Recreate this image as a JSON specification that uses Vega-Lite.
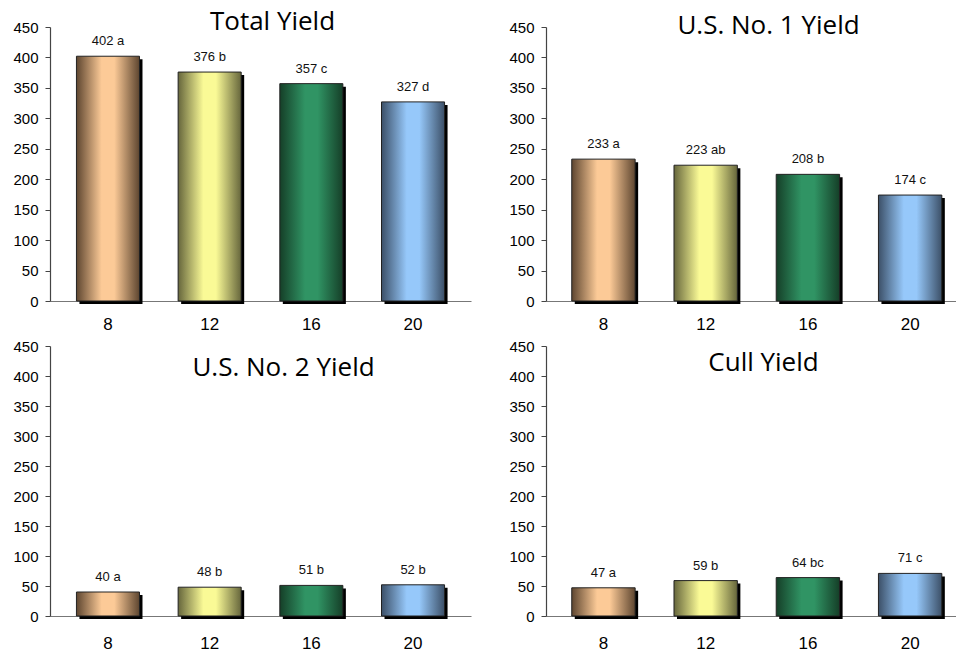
{
  "$schema": "https://vega.github.io/schema/vega-lite/v6.json",
  "padding": {"left": 12, "top": 9, "right": 0, "bottom": 0},
  "background": "white",
  "datasets": {
    "yield": [
      {"panel": "Total Yield", "spacing": 8, "value": 402, "label": "402 a"},
      {"panel": "Total Yield", "spacing": 12, "value": 376, "label": "376 b"},
      {"panel": "Total Yield", "spacing": 16, "value": 357, "label": "357 c"},
      {"panel": "Total Yield", "spacing": 20, "value": 327, "label": "327 d"},
      {"panel": "U.S. No. 1 Yield", "spacing": 8, "value": 233, "label": "233 a"},
      {"panel": "U.S. No. 1 Yield", "spacing": 12, "value": 223, "label": "223 ab"},
      {"panel": "U.S. No. 1 Yield", "spacing": 16, "value": 208, "label": "208 b"},
      {"panel": "U.S. No. 1 Yield", "spacing": 20, "value": 174, "label": "174 c"},
      {"panel": "U.S. No. 2 Yield", "spacing": 8, "value": 40, "label": "40 a"},
      {"panel": "U.S. No. 2 Yield", "spacing": 12, "value": 48, "label": "48 b"},
      {"panel": "U.S. No. 2 Yield", "spacing": 16, "value": 51, "label": "51 b"},
      {"panel": "U.S. No. 2 Yield", "spacing": 20, "value": 52, "label": "52 b"},
      {"panel": "Cull Yield", "spacing": 8, "value": 47, "label": "47 a"},
      {"panel": "Cull Yield", "spacing": 12, "value": 59, "label": "59 b"},
      {"panel": "Cull Yield", "spacing": 16, "value": 64, "label": "64 bc"},
      {"panel": "Cull Yield", "spacing": 20, "value": 71, "label": "71 c"}
    ]
  },
  "data": {"name": "yield"},
  "columns": 2,
  "spacing": {"row": 7, "column": 37},
  "concat": [
    {
      "width": 421, "height": 274,
      "title": {"text": "Total Yield", "frame": "group", "offset": -15, "dx": 12},
      "transform": [{"filter": "datum.panel === 'Total Yield'"}],
      "encoding": {
        "x": {"field": "spacing", "type": "ordinal", "scale": {"domain": [8, 12, 16, 20], "paddingInner": 0.38, "paddingOuter": 0.26}},
        "y": {"field": "value", "type": "quantitative", "scale": {"domain": [0, 450]}}
      },
      "layer": [
        {"mark": {"type": "bar", "color": "black", "xOffset": 3, "yOffset": 3}},
        {"transform": [{"filter": "datum.spacing === 8"}], "mark": {"type": "bar", "stroke": "#222", "strokeWidth": 1, "color": {"gradient": "linear", "x1": 0, "x2": 1, "y1": 0, "y2": 0, "stops": [{"offset": 0, "color": "#5e4630"}, {"offset": 0.4, "color": "#fcca97"}, {"offset": 0.6, "color": "#fcca97"}, {"offset": 1, "color": "#5e4630"}]}}},
        {"transform": [{"filter": "datum.spacing === 12"}], "mark": {"type": "bar", "stroke": "#222", "strokeWidth": 1, "color": {"gradient": "linear", "x1": 0, "x2": 1, "y1": 0, "y2": 0, "stops": [{"offset": 0, "color": "#66663c"}, {"offset": 0.4, "color": "#fafa96"}, {"offset": 0.6, "color": "#fafa96"}, {"offset": 1, "color": "#66663c"}]}}},
        {"transform": [{"filter": "datum.spacing === 16"}], "mark": {"type": "bar", "stroke": "#222", "strokeWidth": 1, "color": {"gradient": "linear", "x1": 0, "x2": 1, "y1": 0, "y2": 0, "stops": [{"offset": 0, "color": "#153f28"}, {"offset": 0.4, "color": "#309464"}, {"offset": 0.6, "color": "#309464"}, {"offset": 1, "color": "#153f28"}]}}},
        {"transform": [{"filter": "datum.spacing === 20"}], "mark": {"type": "bar", "stroke": "#222", "strokeWidth": 1, "color": {"gradient": "linear", "x1": 0, "x2": 1, "y1": 0, "y2": 0, "stops": [{"offset": 0, "color": "#3c5068"}, {"offset": 0.4, "color": "#96c8fa"}, {"offset": 0.6, "color": "#96c8fa"}, {"offset": 1, "color": "#3c5068"}]}}},
        {"mark": {"type": "text", "baseline": "alphabetic", "dy": -11, "fontSize": 13, "font": "Liberation Sans", "color": "#111"}, "encoding": {"text": {"field": "label"}}}
      ]
    },
    {
      "width": 413, "height": 274,
      "title": {"text": "U.S. No. 1 Yield", "frame": "group", "offset": -19, "dx": 16},
      "transform": [{"filter": "datum.panel === 'U.S. No. 1 Yield'"}],
      "encoding": {
        "x": {"field": "spacing", "type": "ordinal", "scale": {"domain": [8, 12, 16, 20], "paddingInner": 0.38, "paddingOuter": 0.21, "align": 0.6}},
        "y": {"field": "value", "type": "quantitative", "scale": {"domain": [0, 450]}}
      },
      "layer": [
        {"mark": {"type": "bar", "color": "black", "xOffset": 3, "yOffset": 3}},
        {"transform": [{"filter": "datum.spacing === 8"}], "mark": {"type": "bar", "stroke": "#222", "strokeWidth": 1, "color": {"gradient": "linear", "x1": 0, "x2": 1, "y1": 0, "y2": 0, "stops": [{"offset": 0, "color": "#5e4630"}, {"offset": 0.4, "color": "#fcca97"}, {"offset": 0.6, "color": "#fcca97"}, {"offset": 1, "color": "#5e4630"}]}}},
        {"transform": [{"filter": "datum.spacing === 12"}], "mark": {"type": "bar", "stroke": "#222", "strokeWidth": 1, "color": {"gradient": "linear", "x1": 0, "x2": 1, "y1": 0, "y2": 0, "stops": [{"offset": 0, "color": "#66663c"}, {"offset": 0.4, "color": "#fafa96"}, {"offset": 0.6, "color": "#fafa96"}, {"offset": 1, "color": "#66663c"}]}}},
        {"transform": [{"filter": "datum.spacing === 16"}], "mark": {"type": "bar", "stroke": "#222", "strokeWidth": 1, "color": {"gradient": "linear", "x1": 0, "x2": 1, "y1": 0, "y2": 0, "stops": [{"offset": 0, "color": "#153f28"}, {"offset": 0.4, "color": "#309464"}, {"offset": 0.6, "color": "#309464"}, {"offset": 1, "color": "#153f28"}]}}},
        {"transform": [{"filter": "datum.spacing === 20"}], "mark": {"type": "bar", "stroke": "#222", "strokeWidth": 1, "color": {"gradient": "linear", "x1": 0, "x2": 1, "y1": 0, "y2": 0, "stops": [{"offset": 0, "color": "#3c5068"}, {"offset": 0.4, "color": "#96c8fa"}, {"offset": 0.6, "color": "#96c8fa"}, {"offset": 1, "color": "#3c5068"}]}}},
        {"mark": {"type": "text", "baseline": "alphabetic", "dy": -11, "fontSize": 13, "font": "Liberation Sans", "color": "#111"}, "encoding": {"text": {"field": "label"}}}
      ]
    },
    {
      "width": 421, "height": 270,
      "title": {"text": "U.S. No. 2 Yield", "frame": "group", "offset": -42, "dx": 23},
      "transform": [{"filter": "datum.panel === 'U.S. No. 2 Yield'"}],
      "encoding": {
        "x": {"field": "spacing", "type": "ordinal", "scale": {"domain": [8, 12, 16, 20], "paddingInner": 0.38, "paddingOuter": 0.26}, "axis": {"labelPadding": 19}},
        "y": {"field": "value", "type": "quantitative", "scale": {"domain": [0, 450]}}
      },
      "layer": [
        {"mark": {"type": "bar", "color": "black", "xOffset": 3, "yOffset": 3}},
        {"transform": [{"filter": "datum.spacing === 8"}], "mark": {"type": "bar", "stroke": "#222", "strokeWidth": 1, "color": {"gradient": "linear", "x1": 0, "x2": 1, "y1": 0, "y2": 0, "stops": [{"offset": 0, "color": "#5e4630"}, {"offset": 0.4, "color": "#fcca97"}, {"offset": 0.6, "color": "#fcca97"}, {"offset": 1, "color": "#5e4630"}]}}},
        {"transform": [{"filter": "datum.spacing === 12"}], "mark": {"type": "bar", "stroke": "#222", "strokeWidth": 1, "color": {"gradient": "linear", "x1": 0, "x2": 1, "y1": 0, "y2": 0, "stops": [{"offset": 0, "color": "#66663c"}, {"offset": 0.4, "color": "#fafa96"}, {"offset": 0.6, "color": "#fafa96"}, {"offset": 1, "color": "#66663c"}]}}},
        {"transform": [{"filter": "datum.spacing === 16"}], "mark": {"type": "bar", "stroke": "#222", "strokeWidth": 1, "color": {"gradient": "linear", "x1": 0, "x2": 1, "y1": 0, "y2": 0, "stops": [{"offset": 0, "color": "#153f28"}, {"offset": 0.4, "color": "#309464"}, {"offset": 0.6, "color": "#309464"}, {"offset": 1, "color": "#153f28"}]}}},
        {"transform": [{"filter": "datum.spacing === 20"}], "mark": {"type": "bar", "stroke": "#222", "strokeWidth": 1, "color": {"gradient": "linear", "x1": 0, "x2": 1, "y1": 0, "y2": 0, "stops": [{"offset": 0, "color": "#3c5068"}, {"offset": 0.4, "color": "#96c8fa"}, {"offset": 0.6, "color": "#96c8fa"}, {"offset": 1, "color": "#3c5068"}]}}},
        {"mark": {"type": "text", "baseline": "alphabetic", "dy": -11, "fontSize": 13, "font": "Liberation Sans", "color": "#111"}, "encoding": {"text": {"field": "label"}}}
      ]
    },
    {
      "width": 413, "height": 270,
      "title": {"text": "Cull Yield", "frame": "group", "offset": -37, "dx": 11},
      "transform": [{"filter": "datum.panel === 'Cull Yield'"}],
      "encoding": {
        "x": {"field": "spacing", "type": "ordinal", "scale": {"domain": [8, 12, 16, 20], "paddingInner": 0.38, "paddingOuter": 0.21, "align": 0.6}, "axis": {"labelPadding": 19}},
        "y": {"field": "value", "type": "quantitative", "scale": {"domain": [0, 450]}}
      },
      "layer": [
        {"mark": {"type": "bar", "color": "black", "xOffset": 3, "yOffset": 3}},
        {"transform": [{"filter": "datum.spacing === 8"}], "mark": {"type": "bar", "stroke": "#222", "strokeWidth": 1, "color": {"gradient": "linear", "x1": 0, "x2": 1, "y1": 0, "y2": 0, "stops": [{"offset": 0, "color": "#5e4630"}, {"offset": 0.4, "color": "#fcca97"}, {"offset": 0.6, "color": "#fcca97"}, {"offset": 1, "color": "#5e4630"}]}}},
        {"transform": [{"filter": "datum.spacing === 12"}], "mark": {"type": "bar", "stroke": "#222", "strokeWidth": 1, "color": {"gradient": "linear", "x1": 0, "x2": 1, "y1": 0, "y2": 0, "stops": [{"offset": 0, "color": "#66663c"}, {"offset": 0.4, "color": "#fafa96"}, {"offset": 0.6, "color": "#fafa96"}, {"offset": 1, "color": "#66663c"}]}}},
        {"transform": [{"filter": "datum.spacing === 16"}], "mark": {"type": "bar", "stroke": "#222", "strokeWidth": 1, "color": {"gradient": "linear", "x1": 0, "x2": 1, "y1": 0, "y2": 0, "stops": [{"offset": 0, "color": "#153f28"}, {"offset": 0.4, "color": "#309464"}, {"offset": 0.6, "color": "#309464"}, {"offset": 1, "color": "#153f28"}]}}},
        {"transform": [{"filter": "datum.spacing === 20"}], "mark": {"type": "bar", "stroke": "#222", "strokeWidth": 1, "color": {"gradient": "linear", "x1": 0, "x2": 1, "y1": 0, "y2": 0, "stops": [{"offset": 0, "color": "#3c5068"}, {"offset": 0.4, "color": "#96c8fa"}, {"offset": 0.6, "color": "#96c8fa"}, {"offset": 1, "color": "#3c5068"}]}}},
        {"mark": {"type": "text", "baseline": "alphabetic", "dy": -11, "fontSize": 13, "font": "Liberation Sans", "color": "#111"}, "encoding": {"text": {"field": "label"}}}
      ]
    }
  ],
  "config": {
    "view": {"stroke": null},
    "font": "Liberation Sans",
    "title": {"font": "Open Sans", "fontSize": 26, "fontWeight": "normal", "color": "black", "anchor": "middle"},
    "axisX": {"title": null, "labelAngle": 0, "ticks": false, "labelPadding": 15, "labelFontSize": 17, "labelColor": "black", "domainColor": "#777", "domainWidth": 1.2, "labelFont": "Liberation Sans"},
    "axisY": {"title": null, "grid": false, "values": [0, 50, 100, 150, 200, 250, 300, 350, 400, 450], "tickSize": 5, "labelPadding": 7, "labelFontSize": 15, "labelColor": "black", "domainColor": "#444", "tickColor": "#444", "domainWidth": 1.2, "labelFont": "Liberation Sans"},
    "axis": {"labelFlush": false}
  }
}
